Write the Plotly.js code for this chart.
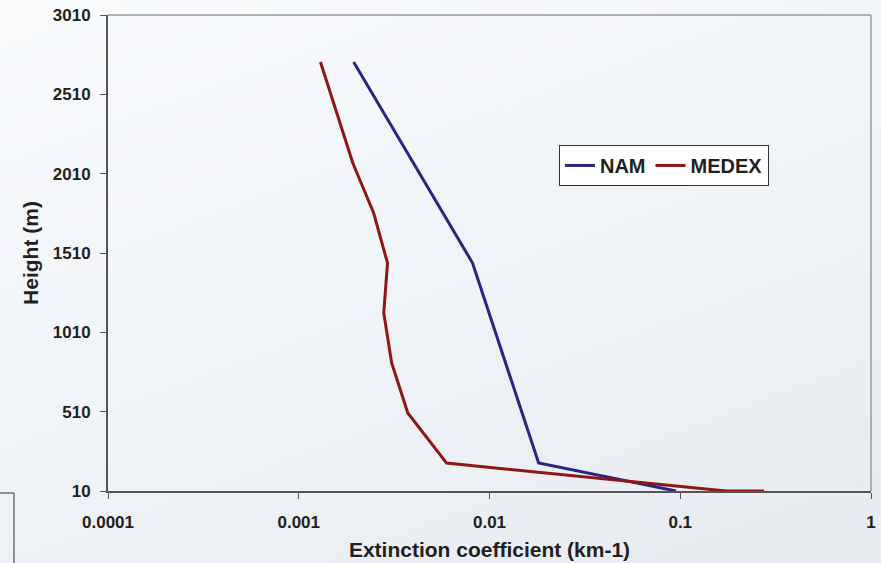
<!DOCTYPE html>
<html>
<head>
<meta charset="utf-8">
<script src="https://cdn.plot.ly/plotly-3.0.1.min.js"></script>
<style>
  html, body { margin: 0; padding: 0; width: 881px; height: 563px; overflow: hidden;
    background: linear-gradient(160deg, #f9fbfd 0%, #f1f4f8 45%, #e7ebef 100%); }
  #chart { width: 881px; height: 563px; }
</style>
</head>
<body>
<div id="chart"></div>
<script>
// Data
const namHeight = [2714, 1447, 186, 10];
const namExt = [0.00194, 0.00815, 0.0181, 0.095];

const medexHeight = [2714, 2077, 1762, 1447, 1132, 817, 502, 186, 10, 10];
const medexExt = [0.00130, 0.00192, 0.00247, 0.00292, 0.00279, 0.00307, 0.00373, 0.00596, 0.174, 0.275];

const xTickVals = [0.0001, 0.001, 0.01, 0.1, 1];
const xTickText = ["0.0001", "0.001", "0.01", "0.1", "1"];
const yTickVals = [10, 510, 1010, 1510, 2010, 2510, 3010];

const traces = [
  { x: namExt, y: namHeight, name: "NAM", type: "scatter", mode: "lines",
    line: { color: "#27277f", width: 3 } },
  { x: medexExt, y: medexHeight, name: "MEDEX", type: "scatter", mode: "lines",
    line: { color: "#8e1616", width: 3 } }
];

const FAM = "Liberation Sans, Arial, sans-serif";
const tickFont = { family: FAM, size: 17, color: "#231f20", weight: "bold" };

const layout = {
  width: 881, height: 563,
  margin: { l: 108, r: 10, t: 15, b: 72 },
  paper_bgcolor: "rgba(0,0,0,0)",
  plot_bgcolor: "rgba(0,0,0,0)",
  showlegend: true,
  legend: {
    orientation: "h", x: 0.591, y: 0.727, xanchor: "left", yanchor: "top",
    bgcolor: "#ffffff", bordercolor: "#333333", borderwidth: 1,
    font: { family: FAM, size: 20, color: "#231f20", weight: "bold" },
    itemwidth: 30, tracegroupgap: 0
  },
  xaxis: {
    type: "log", range: [-4, 0],
    tickvals: xTickVals, ticktext: xTickText,
    ticks: "outside", ticklen: 6, tickcolor: "#555", tickwidth: 1,
    showline: true, linecolor: "#555", linewidth: 2,
    showgrid: false, zeroline: false,
    tickfont: tickFont, ticklabelstandoff: 9,
    title: { text: "Extinction coefficient (km-1)", standoff: 11,
      font: { family: FAM, size: 21, color: "#231f20", weight: "bold" } }
  },
  yaxis: {
    range: [10, 3010],
    tickvals: yTickVals,
    ticks: "outside", ticklen: 6, tickcolor: "#555", tickwidth: 1,
    showline: true, linecolor: "#555", linewidth: 2,
    showgrid: false, zeroline: false,
    tickfont: tickFont, ticklabelstandoff: 6,
    title: { text: "Height (m)", standoff: 8,
      font: { family: FAM, size: 21, color: "#231f20", weight: "bold" } }
  },
  shapes: [
    { type: "line", xref: "paper", yref: "paper", x0: 0, x1: 1, y0: 1, y1: 1,
      line: { color: "#9a9a9a", width: 1.5 } },
    { type: "line", xref: "paper", yref: "paper", x0: 1, x1: 1, y0: 0, y1: 1,
      line: { color: "#9a9a9a", width: 1.5 } },
    { type: "path", xref: "paper", yref: "paper",
      path: "M -0.15,-0.0042 L -0.1232,-0.0042 L -0.1232,-0.16",
      line: { color: "#333333", width: 1 } }
  ]
};

Plotly.newPlot("chart", traces, layout, { displayModeBar: false, staticPlot: true });
</script>
</body>
</html>
